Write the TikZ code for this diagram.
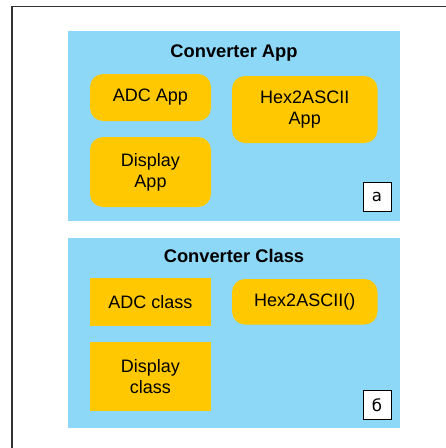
\documentclass[tikz,border=0pt]{standalone}
\usepackage{fontspec}
\setmainfont{Liberation Sans}
\newfontfamily\labelfont{DejaVu Sans}
\definecolor{panelblue}{HTML}{8ED8F7}
\definecolor{unityellow}{HTML}{FFC800}
\definecolor{framegray}{HTML}{333333}
\tikzset{
  panel/.style={fill=panelblue, draw=none},
  unitbox/.style={rectangle, fill=unityellow, draw=none, align=center,
    font=\fontsize{18}{21}\selectfont, inner sep=0pt},
  roundunit/.style={unitbox, rounded corners=13pt},
  paneltitle/.style={anchor=base, font=\fontsize{18.3}{21}\selectfont\bfseries, inner sep=0pt},
  tagbox/.style={draw=black, line width=1pt, fill=white, inner sep=0pt,
    minimum width=28pt, minimum height=29pt, font=\labelfont\fontsize{16.5}{18}\selectfont}
}
\begin{document}
\begin{tikzpicture}[x=1pt, y=-1pt]
\useasboundingbox (0,0) rectangle (446,448);
% outer frame, open towards the right and bottom
\draw[framegray, line width=1.6pt] (12,449) -- (12,6.5) -- (447,6.5);

% upper panel: application layer
\fill[panel] (68,31) rectangle (400,221);
\node[paneltitle] (apptitle) at (234,57) {Converter App};
\node[roundunit, minimum width=121pt, minimum height=47pt] (adcapp) at (150.5,97.5) {ADC App};
\node[roundunit, minimum width=145.5pt, minimum height=67pt] (hexapp) at (304.75,109.5) {Hex2ASCII\\App};
\node[roundunit, minimum width=121pt, minimum height=70pt] (dispapp) at (150.5,172) {Display\\App};
\node[tagbox] (taga) at (377,197) {a};

% lower panel: class layer
\fill[panel] (68,238) rectangle (400,428);
\node[paneltitle] (classtitle) at (234,262) {Converter Class};
\node[unitbox, minimum width=121pt, minimum height=48pt] (adcclass) at (150.5,302) {ADC class};
\node[roundunit, minimum width=145.5pt, minimum height=45.5pt] (hexfn) at (304.75,301.75) {Hex2ASCII()};
\node[unitbox, minimum width=121pt, minimum height=69pt] (dispclass) at (150.5,376.5) {Display\\class};
\node[tagbox] (tagb) at (377,405) {б};
\end{tikzpicture}
\end{document}
